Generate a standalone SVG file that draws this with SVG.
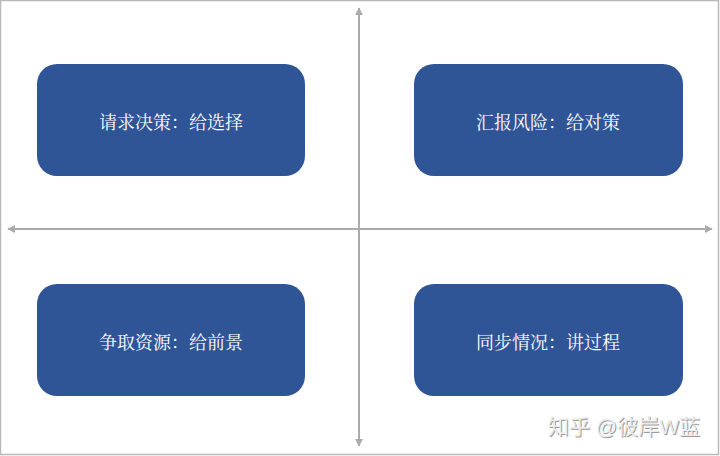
<svg xmlns="http://www.w3.org/2000/svg" width="720" height="456" viewBox="0 0 720 456">
<style>
.box{fill:#2F5597;}
.lbl{fill:#ffffff;font-family:"Noto Serif CJK SC","Noto Sans CJK SC",serif;font-size:18px;text-anchor:middle;dominant-baseline:central;}
.axis{stroke:#ababab;stroke-width:2;fill:none;}
.wm{font-family:"Liberation Sans","Noto Sans CJK SC",sans-serif;font-size:21px;}
</style>
<defs>
<marker id="ah" viewBox="0 0 10 10" refX="9" refY="5" markerWidth="4" markerHeight="4" orient="auto" markerUnits="strokeWidth">
<path d="M0,0 L10,5 L0,10 z" fill="#ababab"/>
</marker>
</defs>
<rect x="0" y="0" width="720" height="456" fill="#ffffff"/>
<rect x="0.5" y="0.5" width="718" height="454" fill="none" stroke="#b8b8b8" stroke-width="1.5"/>
<g id="connectors">
<line class="axis" x1="359" y1="222" x2="359" y2="8" marker-end="url(#ah)"/>
<line class="axis" x1="359" y1="236" x2="359" y2="446" marker-end="url(#ah)"/>
<line class="axis" x1="352" y1="229" x2="8" y2="229" marker-end="url(#ah)"/>
<line class="axis" x1="366" y1="229" x2="712" y2="229" marker-end="url(#ah)"/>
<line class="axis" x1="350" y1="229" x2="368" y2="229"/>
<line class="axis" x1="359" y1="220" x2="359" y2="238"/>
</g>
<g id="node-tl">
<rect class="box" x="37" y="64" width="268" height="112" rx="20"/>
<text class="lbl" x="171" y="121">请求决策：给选择</text>
</g>
<g id="node-tr">
<rect class="box" x="414" y="64" width="269" height="112" rx="20"/>
<text class="lbl" x="548" y="121">汇报风险：给对策</text>
</g>
<g id="node-bl">
<rect class="box" x="37" y="284" width="268" height="112" rx="20"/>
<text class="lbl" x="171" y="341">争取资源：给前景</text>
</g>
<g id="node-br">
<rect class="box" x="414" y="284" width="269" height="112" rx="20"/>
<text class="lbl" x="548" y="341">同步情况：讲过程</text>
</g>
<g id="watermark">
<text class="wm" x="549" y="435" fill="#9a9a9a">知乎 @彼岸W蓝</text>
<text class="wm" x="548" y="434" fill="#ececec">知乎 @彼岸W蓝</text>
</g>
</svg>
